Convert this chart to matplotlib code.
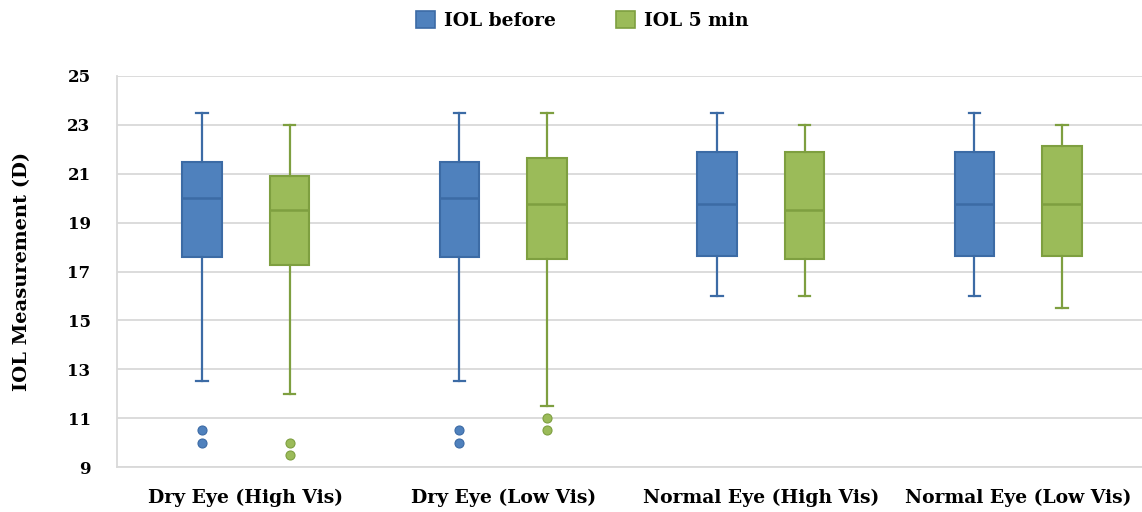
import matplotlib
matplotlib.use("Agg")
import matplotlib.pyplot as plt
from matplotlib.patches import Patch

categories = ["Dry Eye (High Vis)", "Dry Eye (Low Vis)", "Normal Eye (High Vis)", "Normal Eye (Low Vis)"]
series = ["IOL before", "IOL 5 min"]

# IOL before
before_whishi = [23.5, 23.5, 23.5, 23.5]
before_q3 = [21.5, 21.5, 21.9, 21.9]
before_med = [20.0, 20.0, 19.75, 19.75]
before_q1 = [17.6, 17.6, 17.65, 17.65]
before_whislo = [12.5, 12.5, 16.0, 16.0]
before_fliers = [[10.5, 10.0], [10.5, 10.0], [], []]

# IOL 5 min
after_whishi = [23.0, 23.5, 23.0, 23.0]
after_q3 = [20.9, 21.65, 21.9, 22.15]
after_med = [19.5, 19.75, 19.5, 19.75]
after_q1 = [17.25, 17.5, 17.5, 17.65]
after_whislo = [12.0, 11.5, 16.0, 15.5]
after_fliers = [[10.0, 9.5], [11.0, 10.5], [], []]

yticks = [9, 11, 13, 15, 17, 19, 21, 23, 25]

face = ["#4F81BD", "#9BBB59"]
edge = ["#3C6BA5", "#7E9F40"]

plt.rcParams['font.family'] = ['DejaVu Serif']
plt.rcParams['font.weight'] = 'bold'

fig = plt.figure(figsize=(11.42, 5.12), dpi=100)
ax = fig.add_axes([117/1142, 45/512, 1030/1142, 391/512])

def stats(whishi, q3, med, q1, whislo, fliers):
    out = []
    for i in range(len(med)):
        out.append(dict(whishi=whishi[i], q3=q3[i], med=med[i], q1=q1[i],
                        whislo=whislo[i], fliers=fliers[i]))
    return out

all_stats = [stats(before_whishi, before_q3, before_med, before_q1, before_whislo, before_fliers),
             stats(after_whishi, after_q3, after_med, after_q1, after_whislo, after_fliers)]
offsets = [-0.17, 0.17]
for s, st in enumerate(all_stats):
    pos = [i + offsets[s] for i in range(len(categories))]
    ax.bxp(st, positions=pos, widths=0.155, patch_artist=True, showfliers=True,
           boxprops=dict(facecolor=face[s], edgecolor=edge[s], linewidth=1.5),
           medianprops=dict(color=edge[s], linewidth=1.8),
           whiskerprops=dict(color=edge[s], linewidth=1.6),
           capprops=dict(color=edge[s], linewidth=1.6),
           capwidths=0.045,
           flierprops=dict(marker='o', markerfacecolor=face[s], markeredgecolor=edge[s],
                           markersize=6.5, markeredgewidth=0.8, linestyle='none'),
           zorder=3)

ax.set_xlim(-0.5, 3.5)
ax.set_ylim(9, 25)
ax.set_yticks(yticks)
ax.set_yticklabels([str(t) for t in yticks], fontsize=12, fontweight='bold')
ax.set_xticks(range(len(categories)))
ax.set_xticklabels(categories, fontsize=13.5, fontweight='bold')
ax.tick_params(axis='both', length=0)
ax.tick_params(axis='y', pad=19)
ax.tick_params(axis='x', pad=16)
ax.yaxis.grid(True, color='#D9D9D9', linewidth=1.3, zorder=0)
ax.set_axisbelow(True)
for sp in ['top', 'right']:
    ax.spines[sp].set_visible(False)
for sp in ['left', 'bottom']:
    ax.spines[sp].set_color('#D9D9D9')
    ax.spines[sp].set_linewidth(1.3)
ax.set_ylabel("IOL Measurement (D)", fontsize=14, fontweight='bold')
ax.yaxis.set_label_coords(-0.0835, 0.5)

handles = [Patch(facecolor=face[i], edgecolor=edge[i], linewidth=1.2) for i in range(2)]
fig.legend(handles, series, loc='center', bbox_to_anchor=(0.51, 0.96), ncol=2, frameon=False,
           handlelength=1.0, handleheight=1.0, columnspacing=3.2, handletextpad=0.5,
           prop=dict(weight='bold', size=13.5))

fig.savefig("out.png", dpi=100)
